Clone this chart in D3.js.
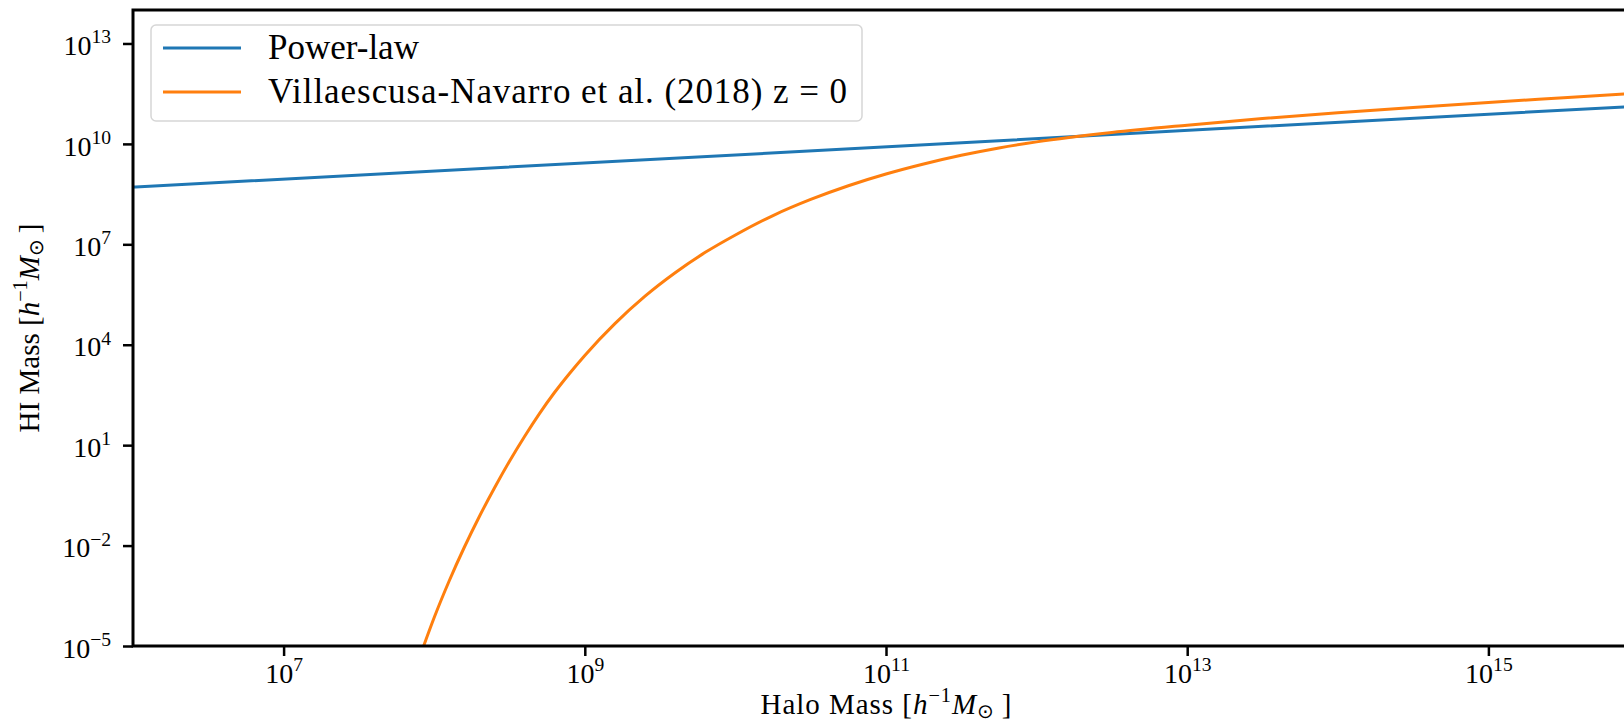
<!DOCTYPE html>
<html>
<head>
<meta charset="utf-8">
<script src="https://cdn.jsdelivr.net/npm/d3@7"></script>
<style>
  html, body { margin: 0; padding: 0; background: #fff; overflow: hidden; }
  svg { display: block; }
</style>
</head>
<body>
<svg id="chart" width="1624" height="721"></svg>
<script>
// values, as log10 of the mass
const xTicks = [7, 9, 11, 13, 15]
const yTicks = [-5, -2, 1, 4, 7, 10, 13]

const powerLawHalo = [6.0, 10.30, 12.95, 16.0]
const powerLawHI = [8.71, 9.74, 10.39, 11.13]

const vnHalo = [7.93, 8.0, 8.1, 8.2, 8.3, 8.4, 8.5, 8.6, 8.7, 8.8, 8.9, 9.0, 9.2, 9.4, 9.6, 9.8, 10.0, 10.25, 10.5, 10.75, 11.0, 11.25, 11.5, 11.75, 12.0, 12.5, 13.0, 13.5, 14.0, 14.5, 15.0, 15.5, 16.0]
const vnHI = [-5.0, -4.15, -3.05, -2.05, -1.13, -0.28, 0.52, 1.26, 1.95, 2.58, 3.15, 3.68, 4.63, 5.45, 6.15, 6.76, 7.28, 7.86, 8.34, 8.75, 9.10, 9.40, 9.66, 9.88, 10.06, 10.34, 10.56, 10.76, 10.93, 11.09, 11.24, 11.38, 11.52]

const seriesNames = ['Power-law', 'Villaescusa-Navarro et al. (2018) z = 0']
const seriesColors = ['#1f77b4', '#ff7f0e']

const svg = d3.select('#chart')

// find a Times-like font that is really installed
const pickFont = cands => {
  const probe = svg.append('text').attr('font-size', 40).text('Villaescusa-Navarro (2018) HIhm 0123')
  probe.attr('font-family', 'monospace')
  const base = probe.node().getComputedTextLength()
  let found = 'serif'
  for (const c of cands) {
    probe.attr('font-family', "'" + c + "', monospace")
    if (Math.abs(probe.node().getComputedTextLength() - base) > 0.5) { found = "'" + c + "'"; break }
  }
  probe.remove()
  return found
}
const serif = pickFont(['Liberation Serif', 'Tinos', 'Times New Roman', 'Nimbus Roman', 'DejaVu Serif', 'Noto Serif', 'FreeSerif'])

const margin = { top: 10, left: 133 }
const plotRight = 1639, plotBottom = 646

const x = d3.scaleLog().domain([1e6, 1e16]).range([margin.left, plotRight])
const y = d3.scaleLog().domain([1e-5, 1e14]).range([plotBottom, margin.top])

svg.append('clipPath').attr('id', 'clip')
  .append('rect')
  .attr('x', margin.left).attr('y', margin.top)
  .attr('width', plotRight - margin.left).attr('height', plotBottom - margin.top)

// writes "10" with a raised exponent into a tick text
const powerLabel = (sel, size) => {
  sel.each(function (d) {
    const e = Math.round(Math.log10(d))
    const t = d3.select(this).text(null)
    t.append('tspan').text('10')
    t.append('tspan')
      .attr('font-size', size * 0.7)
      .attr('dy', -size * 0.42)
      .text(String(e).replace('-', '\u2212'))
  })
}

const tickSize = 28

const xAxis = svg.append('g')
  .attr('transform', 'translate(0,' + plotBottom + ')')
  .call(d3.axisBottom(x).tickValues(xTicks.map(e => 10 ** e)).tickSize(10).tickPadding(7))
xAxis.attr('font-family', serif)
xAxis.select('.domain').remove()
xAxis.selectAll('.tick line').attr('stroke', '#000').attr('stroke-width', 2.5)
xAxis.selectAll('.tick text')
  .attr('font-size', tickSize).attr('fill', '#000')
  .attr('font-family', serif)
  .attr('dy', '0.71em')
  .call(powerLabel, tickSize)

const yAxis = svg.append('g')
  .attr('transform', 'translate(' + margin.left + ',0)')
  .call(d3.axisLeft(y).tickValues(yTicks.map(e => 10 ** e)).tickSize(10).tickPadding(12))
yAxis.attr('font-family', serif)
yAxis.select('.domain').remove()
yAxis.selectAll('.tick line').attr('stroke', '#000').attr('stroke-width', 2.5)
yAxis.selectAll('.tick text')
  .attr('font-size', tickSize).attr('fill', '#000')
  .attr('font-family', serif)
  .attr('dy', '0.4em')
  .call(powerLabel, tickSize)

// curves
const line = d3.line()
  .x(d => x(10 ** d[0]))
  .y(d => y(10 ** d[1]))
  .curve(d3.curveMonotoneX)

const series = [
  d3.zip(powerLawHalo, powerLawHI),
  d3.zip(vnHalo, vnHI)
]

svg.append('g').attr('clip-path', 'url(#clip)')
  .selectAll('path')
  .data(series)
  .join('path')
  .attr('fill', 'none')
  .attr('stroke', (d, i) => seriesColors[i])
  .attr('stroke-width', 3)
  .attr('stroke-linejoin', 'round')
  .attr('d', line)

// spines (left, top, bottom; right is outside the picture)
svg.append('path')
  .attr('d', 'M' + plotRight + ',' + margin.top + 'H' + margin.left + 'V' + plotBottom + 'H' + plotRight)
  .attr('fill', 'none')
  .attr('stroke', '#000')
  .attr('stroke-width', 3)

// axis labels with a bit of math
const mathText = (t, parts, size) => {
  let shift = 0
  for (const p of parts) {
    const s = p.shift || 0
    const ts = t.append('tspan').text(p.t)
    if (p.italic) ts.attr('font-style', 'italic')
    if (p.scale) ts.attr('font-size', size * p.scale)
    if (s !== shift) ts.attr('dy', (shift - s) * size)
    shift = s
  }
}
const unitParts = [
  { t: ' [' },
  { t: 'h', italic: true },
  { t: '\u22121', scale: 0.7, shift: 0.4 },
  { t: 'M', italic: true },
  { t: '\u2299', scale: 0.7, shift: -0.15 },
  { t: '\u2009]' }
]
const labelSize = 29

const xl = svg.append('text')
  .attr('x', (margin.left + plotRight) / 2)
  .attr('y', 714)
  .attr('text-anchor', 'middle')
  .attr('font-family', serif)
  .attr('font-size', labelSize)
  .attr('textLength', 251)
  .attr('lengthAdjust', 'spacing')
mathText(xl, [{ t: 'Halo Mass' }, ...unitParts], labelSize)

const yl = svg.append('text')
  .attr('transform', 'translate(39,' + ((margin.top + plotBottom) / 2) + ') rotate(-90)')
  .attr('text-anchor', 'middle')
  .attr('font-family', serif)
  .attr('font-size', labelSize)
mathText(yl, [{ t: 'HI Mass' }, ...unitParts], labelSize)

// legend
const legend = svg.append('g')
legend.append('rect')
  .attr('x', 151).attr('y', 25)
  .attr('width', 711).attr('height', 96)
  .attr('rx', 5)
  .attr('fill', '#fff').attr('fill-opacity', 0.8)
  .attr('stroke', '#d6d6d6').attr('stroke-width', 1.5)

const rows = legend.selectAll('g.row')
  .data(seriesNames)
  .join('g')
  .attr('class', 'row')
  .attr('transform', (d, i) => 'translate(0,' + (48 + i * 44) + ')')
rows.append('line')
  .attr('x1', 163).attr('x2', 241)
  .attr('stroke', (d, i) => seriesColors[i])
  .attr('stroke-width', 3)
rows.append('text')
  .attr('x', 268).attr('y', 11)
  .attr('font-family', serif)
  .attr('font-size', 35)
  .text(d => d)
// the long label runs a little wider in the reference
rows.filter((d, i) => i === 1).select('text')
  .attr('textLength', 579)
  .attr('lengthAdjust', 'spacing')
</script>
</body>
</html>
